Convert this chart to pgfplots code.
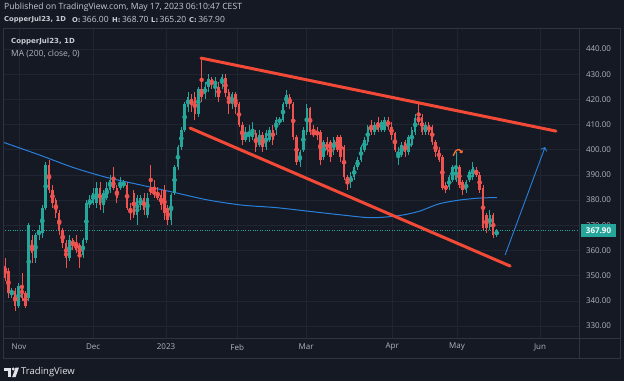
\documentclass[border=0pt]{standalone}
\usepackage{fontspec}
\setmainfont{Open Sans}
\newfontfamily\djv{DejaVu Sans}
\usepackage{pgfplots}
\pgfplotsset{compat=1.18}
\usepackage{pgfplotstable}
\usetikzlibrary{arrows.meta}

\definecolor{bg}{RGB}{21,25,36}
\definecolor{gridc}{RGB}{33,37,49}
\definecolor{borderc}{RGB}{48,52,64}
\definecolor{txt}{RGB}{178,181,190}
\definecolor{hdr}{RGB}{200,203,210}
\definecolor{cgreen}{RGB}{38,166,154}
\definecolor{cred}{RGB}{239,83,80}
\definecolor{trend}{RGB}{242,74,54}
\definecolor{mablue}{RGB}{41,128,220}
\definecolor{hookc}{RGB}{255,110,50}
\definecolor{logoc}{RGB}{225,227,232}

% idx open high low close
\pgfplotstableread{
i O H L C
2 343 345 341 344
4 338 347 337 346
7 341 371 340 370
9 357 367 355 366
10 366 370 364 368
11 367 378 365 377
12 377 395 376 394
19 357 366 356 364
23 358 365 357 364
24 364 380 363 379
25 378 382 377 380
26 379 385 378 383
27 379 387 377 385
29 378 384 375 383
30 381 387 380 385
31 384 390 383 388
34 385 389 384 387
35 386 388 385 386.5
39 374 382 370 381
40 378 382 376 381
42 374 383 373 381
49 372 383 370 382
50 383 394 382 393
51 393 402 392 401
52 401 409 400 408
53 408 419 407 418
54 417 423 415 421
57 414 425 413 424
59 422 427 420 425
60 425 430 423 428
62 426 429 421 427
64 426 430 424 429
67 418 423 416 422
71 404 409 403 407
72 405 410 403 407
73 405 411 404 408
75 402 408 401 406
77 401 408 400 406.6
78 404 409 403 408
80 408 413 406 412
81 411 413 410 412
82 412 419 411 418
83 418 423.7 417 421.7
87 395 400 393 399
88 400 409 399 408
89 407 418 406 416.6
94 397 404 396 403
97 400 405 398 404
102 387 391 385 389.5
103 389 394 388 393
104 393 397 392 396
105 396 402 395 401
106 400 405 399 404
107 403 410 402 409
109 407 411 406 410
111 408 412 407 411
112 408 413 407 412
116 398 401 394 399
117 398 403 397 402
119 399 406 398 405
120 402 409 401 408
121 407 414 406 412.6
124 407 411 406 410
131 385 390 384 389
132 388 394 387 393
133 388 399 387 393
136 384 388 383 387
137 388 392 387 391
138 389 395 388 393
143 369.5 376 368 374
145 366 368.7 365.2 367.9
}\greentab

\pgfplotstableread{
i O H L C
0 354 357 348 349
1 352 353 341 343
3 344 345 336 338
5 346 351 340 341
6 343 344 337 338
8 364 366 355 359
13 394 396 383 384
14 384 386 377 379
15 380 381 373 375
16 375 376 366 368
17 368 369 361 363
18 363 364 353 357
20 364 365 360 362
21 363 366 359 360
22 362 363 353 358
28 385 387 376 378
32 388 393 384 385
33 385 386 379 381
36 386 387 376 377
37 377 379 372 375
38 383 384 373 374
41 381 383 374 376
43 385 394 382 383
44 384 388 381 382
45 383 385 380 381
46 382 384 376 378
47 384 386 372 375
48 377 378 370 372
55 420 422 415 418
56 421 423 412 414
58 424 436.5 419 421
61 428 429 424 426
63 425 427 419 421
65 428.5 430 421 422.5
66 423 424 414 418
68 422 423 414 417
69 418 419 409 410
70 410 411 402 404
74 406.6 408 399 401
76 406 407 399 401
79 408 410 402 404
84 421 422 416 418
85 418 419 404 405
86 405 406 394 395
90 416.6 417 406 407
91 407 410 405 406
92 407 409 404 406.5
93 407 408 394 396
95 403 405 398 400
96 403 404 395 397
98 405 406 399 400
99 405 406 395 397
100 401 402 388 389
101 389 390 384 387
108 410 412 406 407
110 411 413 407 408
113 412 413 408 409
114 409 411 404 406
115 406.6 407 399 400
118 403 404 397 399
122 413 418 410 411
123 413 414 406 407
125 410 411 406 407
126 409 410 402 403
127 403 404 397 399
128 400 401 395 396
129 397 398 384 385
130 386 387 383 384
134 393 394 385 386
135 387 388 382 384
139 392 393 389 390
140 390 391 383 384
141 385 386 368 369
142 374 375 367 369
144 374 375 365 366
}\redtab

\begin{document}
\begin{tikzpicture}[x=1pt,y=1pt]
\fill[bg] (0,0) rectangle (624,-381);
\useasboundingbox (0,0) rectangle (624,-381);
\begin{axis}[
  at={(3pt,-28pt)}, anchor=north west,
  width=576pt, height=310pt, scale only axis,
  xmin=-0.59, xmax=169.3, ymin=325.23, ymax=448.34,
  axis line style={draw=none},
  major tick length=0pt,
  grid=major, grid style={gridc, line width=0.5pt},
  xtick={4.1,26,47.5,68.5,88.8,114.2,133.3,157.8},
  xticklabels={Nov,Dec,2023,Feb,Mar,Apr,May,Jun},
  ytick={330,340,...,440},
  yticklabel pos=right,
  tick label style={font=\fontsize{8}{9}\selectfont, text=txt},
  xticklabel style={anchor=center, yshift=-9pt},
  yticklabel style={anchor=center, xshift=19.5pt},
  clip=true,
  /pgf/number format/.cd, fixed, fixed zerofill, precision=2, assume math mode=true
]
% close price line
\addplot[cgreen, line width=0.6pt, dash pattern=on 0.8pt off 1.6pt] coordinates {(-0.59,367.9) (169.3,367.9)};
% moving average 200
\addplot[mablue, line width=1pt, smooth] coordinates {
(-0.6,403) (10,398) (20,393) (30,389) (40,386) (50,383) (60,380) (70,378)
(80,377) (90,375.5) (100,374) (108,373) (116,373.8) (122,375.5) (128,378.5)
(134,380) (140,380.8) (145.1,381)};
% wicks
\addplot[color=cgreen, only marks, mark=none, error bars/.cd, y dir=both, y explicit, error mark=none,
  error bar style={line width=0.8pt, color=cgreen}]
  table[x=i, y expr={(\thisrow{H}+\thisrow{L})/2}, y error expr={(\thisrow{H}-\thisrow{L})/2}] {\greentab};
\addplot[color=cred, only marks, mark=none, error bars/.cd, y dir=both, y explicit, error mark=none,
  error bar style={line width=0.8pt, color=cred}]
  table[x=i, y expr={(\thisrow{H}+\thisrow{L})/2}, y error expr={(\thisrow{H}-\thisrow{L})/2}] {\redtab};
% bodies
\addplot[color=cgreen, only marks, mark=none, error bars/.cd, y dir=both, y explicit, error mark=none,
  error bar style={line width=2.5pt, color=cgreen}]
  table[x=i, y expr={(\thisrow{O}+\thisrow{C})/2}, y error expr={max(abs(\thisrow{C}-\thisrow{O})/2,0.25)}] {\greentab};
\addplot[color=cred, only marks, mark=none, error bars/.cd, y dir=both, y explicit, error mark=none,
  error bar style={line width=2.5pt, color=cred}]
  table[x=i, y expr={(\thisrow{O}+\thisrow{C})/2}, y error expr={max(abs(\thisrow{C}-\thisrow{O})/2,0.25)}] {\redtab};
% trend lines
\addplot[trend, line width=3pt, line cap=round] coordinates {(57.8,436.4) (162.5,407.4)};
\addplot[trend, line width=3pt, line cap=round] coordinates {(54.6,408.6) (149.0,353.8)};
% projection arrow
\addplot[mablue, line width=0.9pt, -{Straight Barb[length=3pt,width=6pt]}] coordinates {(147.5,358.2) (159.3,401.1)};
% small hook arrow
\addplot[hookc, line width=1.3pt, smooth, -{Straight Barb[length=1.5pt,width=3pt]}] coordinates {(132.2,397.6) (133.0,399.6) (134.0,400.0) (134.9,398.6)};
\end{axis}
% panel borders
\draw[borderc, line width=0.8pt] (3,-28) rectangle (620,-358);
\draw[borderc, line width=0.6pt] (579,-28) -- (579,-358);
\draw[borderc, line width=0.6pt] (3,-338) -- (620,-338);
% last price label
\fill[cgreen] (581,-224) rectangle (616,-236.5);
\node[text=white, font=\fontsize{8}{9}\selectfont\bfseries, inner sep=0] at (598.5,-230.2) {367.90};
% header
\node[anchor=west, text=hdr, font=\fontsize{8.6}{10}\selectfont, inner sep=0] at (4,-7) {Published on TradingView.com, May 17, 2023 06:10:47 CEST};
\begin{scope}[every node/.style={anchor=west, text=hdr, inner sep=0, font=\fontsize{8.5}{9}\selectfont}]
\node at (4,-19.5) {\djv\fontsize{6.8}{9}\selectfont\bfseries CopperJul23, 1D};
\node at (72,-19.5) {{\djv\fontsize{6.8}{9}\selectfont\bfseries O:}\,366.00};
\node at (112,-19.5) {{\djv\fontsize{6.8}{9}\selectfont\bfseries H:}\,368.70};
\node at (151,-19.5) {{\djv\fontsize{6.8}{9}\selectfont\bfseries L:}\,365.20};
\node at (189,-19.5) {{\djv\fontsize{6.8}{9}\selectfont\bfseries C:}\,367.90};
\end{scope}
% legend inside chart
\node[anchor=west, text=hdr, font=\djv\fontsize{7}{9}\selectfont\bfseries, inner sep=0] at (11,-42) {CopperJul23, 1D};
\node[anchor=west, text=txt, font=\fontsize{8.5}{9}\selectfont, inner sep=0] at (11,-53.5) {MA (200, close, 0)};
% footer logo
\fill[logoc] (4,-367.5) rectangle (11,-370.5);
\fill[logoc] (7.6,-370.5) rectangle (11,-377);
\fill[logoc] (13.2,-369) circle (1.6);
\fill[logoc] (15.6,-367.5) -- (19,-367.5) -- (15.6,-377) -- (12.2,-377) -- cycle;
\node[anchor=west, text=logoc, font=\fontsize{9.5}{10}\selectfont, inner sep=0] at (21,-372.2) {TradingView};
\end{tikzpicture}
\end{document}
